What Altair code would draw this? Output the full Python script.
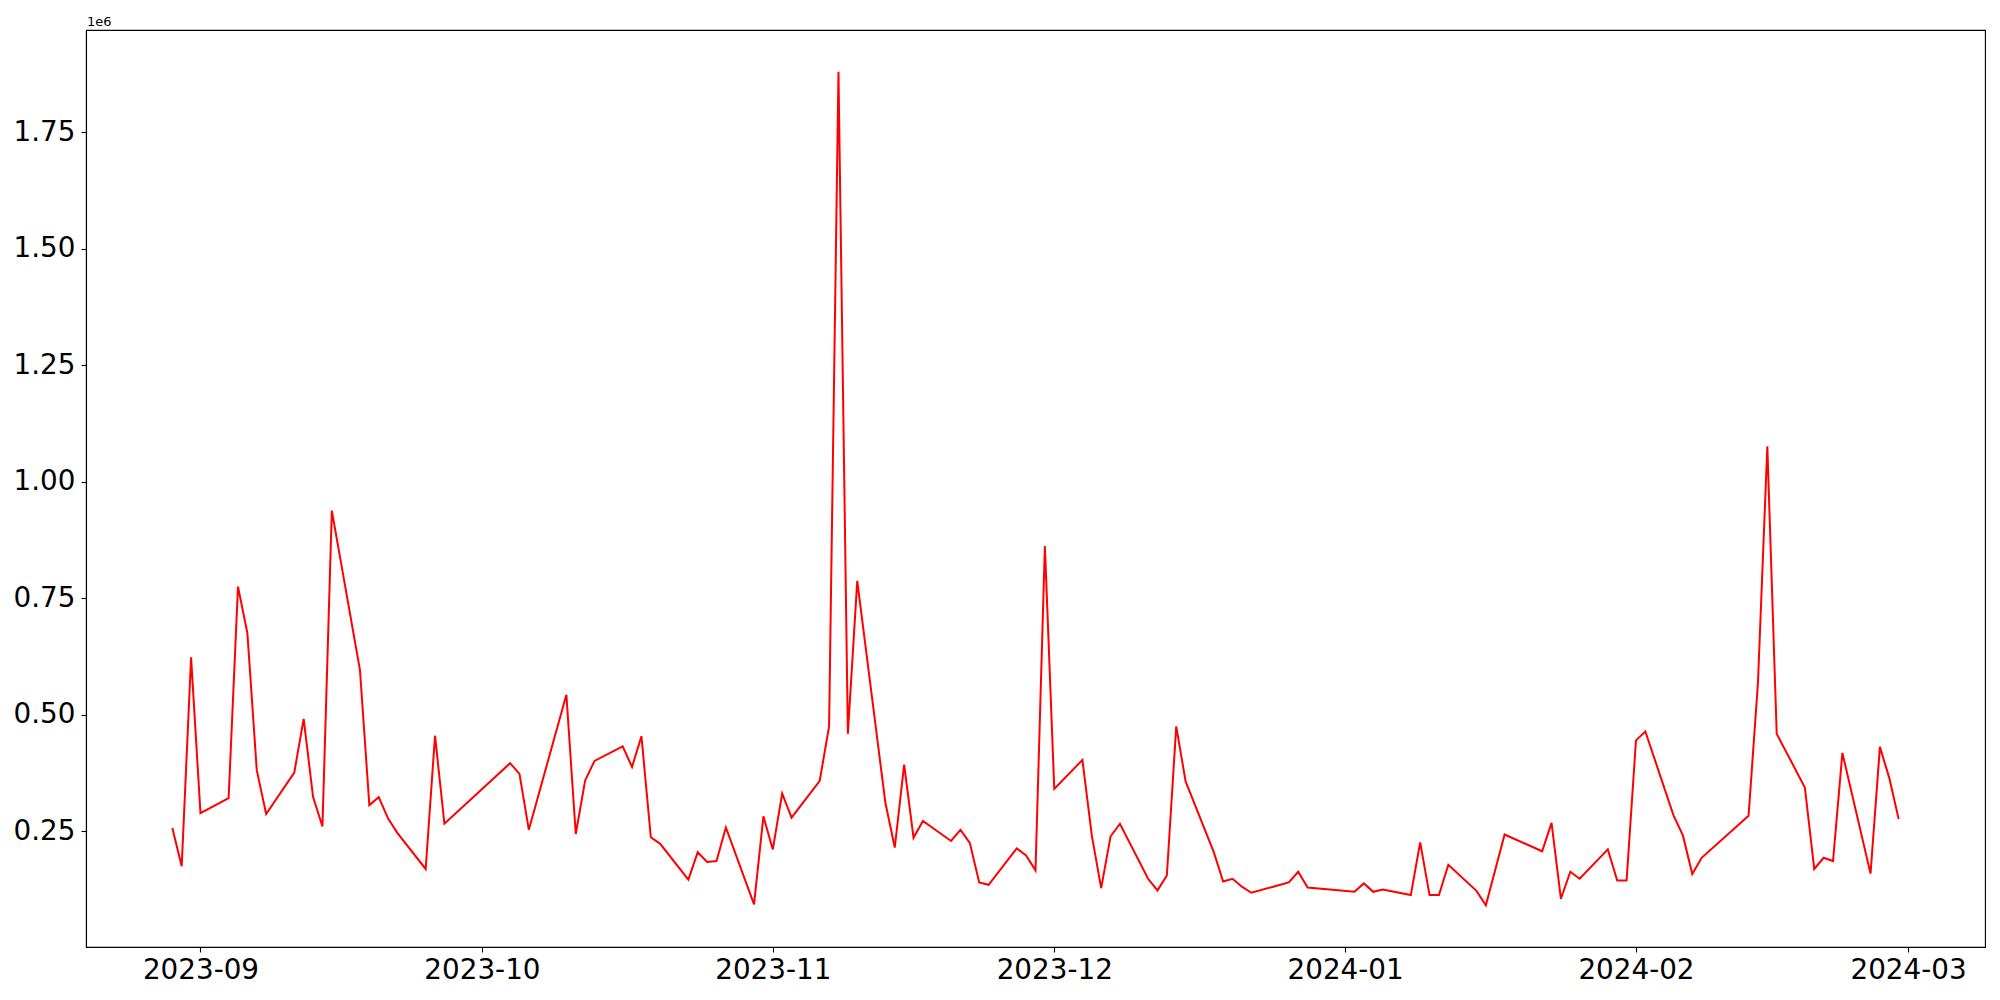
import altair as alt
import pandas as pd

dates = [
    "2023-08-29", "2023-08-30", "2023-08-31", "2023-09-01",
    "2023-09-04", "2023-09-05", "2023-09-06", "2023-09-07", "2023-09-08",
    "2023-09-11", "2023-09-12", "2023-09-13", "2023-09-14", "2023-09-15",
    "2023-09-18", "2023-09-19", "2023-09-20", "2023-09-21", "2023-09-22",
    "2023-09-25", "2023-09-26", "2023-09-27",
    "2023-10-04", "2023-10-05", "2023-10-06",
    "2023-10-10", "2023-10-11", "2023-10-12", "2023-10-13",
    "2023-10-16", "2023-10-17", "2023-10-18", "2023-10-19", "2023-10-20",
    "2023-10-23", "2023-10-24", "2023-10-25", "2023-10-26", "2023-10-27",
    "2023-10-30", "2023-10-31", "2023-11-01", "2023-11-02", "2023-11-03",
    "2023-11-06", "2023-11-07", "2023-11-08", "2023-11-09", "2023-11-10",
    "2023-11-13", "2023-11-14", "2023-11-15", "2023-11-16", "2023-11-17",
    "2023-11-20", "2023-11-21", "2023-11-22", "2023-11-23", "2023-11-24",
    "2023-11-27", "2023-11-28", "2023-11-29", "2023-11-30", "2023-12-01",
    "2023-12-04", "2023-12-05", "2023-12-06", "2023-12-07", "2023-12-08",
    "2023-12-11", "2023-12-12", "2023-12-13", "2023-12-14", "2023-12-15",
    "2023-12-18", "2023-12-19", "2023-12-20", "2023-12-21", "2023-12-22",
    "2023-12-26", "2023-12-27", "2023-12-28",
    "2024-01-02", "2024-01-03", "2024-01-04", "2024-01-05",
    "2024-01-08", "2024-01-09", "2024-01-10", "2024-01-11", "2024-01-12",
    "2024-01-15", "2024-01-16", "2024-01-18",
    "2024-01-22", "2024-01-23", "2024-01-24", "2024-01-25", "2024-01-26",
    "2024-01-29", "2024-01-30", "2024-01-31", "2024-02-01", "2024-02-02",
    "2024-02-05", "2024-02-06", "2024-02-07", "2024-02-08",
    "2024-02-13", "2024-02-14", "2024-02-15", "2024-02-16",
    "2024-02-19", "2024-02-20", "2024-02-21", "2024-02-22", "2024-02-23",
    "2024-02-26", "2024-02-27", "2024-02-28", "2024-02-29",
]

values = [
    257000, 175000, 623000, 289000,
    321000, 775000, 675000, 381000, 287000,
    376000, 491000, 324000, 260000, 938000,
    596000, 306000, 323000, 277000, 246000,
    169000, 455000, 266000,
    396000, 373000, 253000,
    543000, 244000, 359000, 401000,
    432000, 388000, 454000, 237000, 223000,
    146000, 205000, 184000, 186000, 258000,
    93000, 282000, 211000, 331000, 279000,
    358000, 475000, 1880000, 459000, 787000,
    311000, 215000, 393000, 236000, 272000,
    229000, 253000, 225000, 140000, 135000,
    213000, 198000, 166000, 862000, 341000,
    403000, 241000, 128000, 239000, 266000,
    148000, 123000, 155000, 475000, 357000,
    205000, 142000, 148000, 131000, 118000,
    140000, 163000, 129000,
    120000, 138000, 120000, 125000,
    113000, 226000, 113000, 113000, 178000,
    122000, 91000, 243000,
    207000, 268000, 105000, 163000, 148000,
    211000, 144000, 144000, 445000, 464000,
    284000, 241000, 158000, 193000,
    283000, 568000, 1076000, 459000,
    344000, 169000, 193000, 186000, 418000,
    159000, 431000, 364000, 276000,
]

x_ticks = ["2023-09-01", "2023-10-01", "2023-11-01", "2023-12-01",
           "2024-01-01", "2024-02-01", "2024-03-01"]
y_ticks = [250000, 500000, 750000, 1000000, 1250000, 1500000, 1750000]

df = pd.DataFrame({"date": dates, "value": values})

ts = pd.to_datetime(pd.Series(dates), utc=True)
span = ts.max() - ts.min()
x0 = ts.min() - span * 0.05
x1 = ts.max() + span * 0.05
x_domain = [int(x0.value // 1_000_000), int(x1.value // 1_000_000)]
x_tick_ms = [int(pd.Timestamp(t, tz="UTC").value // 1_000_000) for t in x_ticks]

vmin, vmax = min(values), max(values)
vm = (vmax - vmin) * 0.05
y_domain = [vmin - vm, vmax + vm]

FONT = "DejaVu Sans"

line = alt.Chart(df).mark_line(color="#ff0000", strokeWidth=2, clip=True).encode(
    x=alt.X(
        "date:T",
        scale=alt.Scale(type="utc", domain=x_domain, nice=False),
        axis=alt.Axis(
            values=x_tick_ms,
            labelExpr="utcFormat(datum.value, '%Y-%m')",
            title=None,
            grid=False,
            tickSize=5,
            tickWidth=1.1,
            tickColor="black",
            domainColor="black",
            domainWidth=1.1,
            labelFont=FONT,
            labelFontSize=27.8,
            labelColor="black",
            labelPadding=4,
            labelFlush=False,
            labelOverlap=False,
        ),
    ),
    y=alt.Y(
        "value:Q",
        scale=alt.Scale(domain=y_domain, nice=False, zero=False),
        axis=alt.Axis(
            values=y_ticks,
            labelExpr="format(datum.value / 1000000, '.2f')",
            title=None,
            grid=False,
            tickSize=5,
            tickWidth=1.1,
            tickColor="black",
            domainColor="black",
            domainWidth=1.1,
            labelFont=FONT,
            labelFontSize=27.8,
            labelColor="black",
            labelPadding=6,
            labelFlush=False,
            labelOverlap=False,
        ),
    ),
)

offset_df = pd.DataFrame({"label": ["1e6"]})
offset = alt.Chart(offset_df).mark_text(
    align="left", baseline="alphabetic", font=FONT, fontSize=13, color="black"
).encode(
    x=alt.value(1),
    y=alt.value(-4),
    text="label:N",
)

chart = alt.layer(line, offset).properties(
    width=1899,
    height=917,
    padding={"left": 78, "top": 22, "right": 7, "bottom": 45},
    autosize=alt.AutoSizeParams(type="none"),
    background="white",
).configure_view(
    stroke="black", strokeWidth=1.1
)

chart.save("out.html", embed_options={"renderer": "svg", "actions": False})
